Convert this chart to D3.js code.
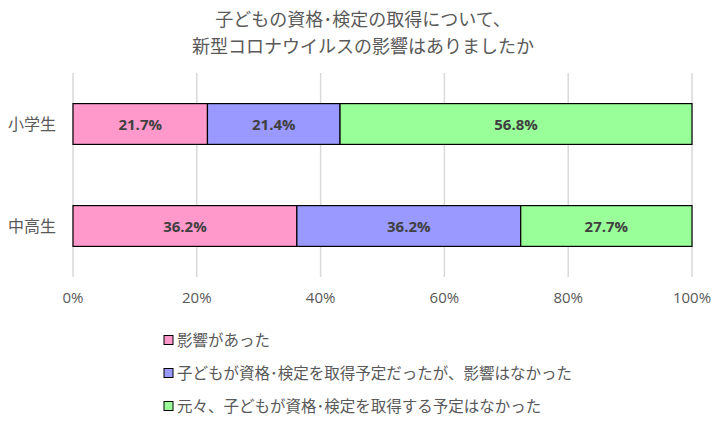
<!DOCTYPE html>
<html><head><meta charset="utf-8">
<script src="https://cdn.jsdelivr.net/npm/d3@7"></script>
<style>body{margin:0;background:#fff;}svg{display:block;font-family:"Noto Sans CJK JP","Noto Sans",sans-serif;}</style>
</head><body><svg id="c" width="726" height="422"></svg>
<script>
const titleLines = ["子どもの資格･検定の取得について、", "新型コロナウイルスの影響はありましたか"];
const categories = ["小学生", "中高生"];
const seriesNames = ["影響があった", "子どもが資格･検定を取得予定だったが、影響はなかった", "元々、子どもが資格･検定を取得する予定はなかった"];
const seriesColors = ["#FF99CC", "#9999FF", "#99FF99"];
const valuesAffected = [21.7, 36.2];
const valuesPlannedNoEffect = [21.4, 36.2];
const valuesNoPlan = [56.8, 27.7];
const tickValues = [0, 20, 40, 60, 80, 100];

const seriesValues = [valuesAffected, valuesPlannedNoEffect, valuesNoPlan];
const svg = d3.select("#c");
const x = d3.scaleLinear().domain([0, 100]).range([73, 692]);
const y = d3.scaleBand().domain(categories).range([73, 277]).paddingInner(0.6).paddingOuter(0.3);

// title
svg.selectAll("text.title").data(titleLines).join("text")
  .attr("x", 363).attr("y", (d,i)=>26 + i*27)
  .attr("text-anchor","middle").attr("font-size",18).attr("fill","#595959").text(d=>d);

// gridlines
svg.selectAll("line.grid").data(tickValues).join("line")
  .attr("x1",d=>x(d)).attr("x2",d=>x(d)).attr("y1",73).attr("y2",277)
  .attr("stroke","#D9D9D9").attr("stroke-width",1.5);

// bars
const stacked = categories.map((c,ci)=>{
  let acc=0;
  return seriesValues.map((s,si)=>{const v=s[ci]; const r={c,si,x0:acc,x1:acc+v,v}; acc+=v; return r;});
}).flat();
categories.forEach(c=>{
  const rows = stacked.filter(r=>r.c===c); const tot = rows[rows.length-1].x1;
  rows.forEach(r=>{r.x0=r.x0*100/tot; r.x1=r.x1*100/tot;});
});
svg.selectAll("rect.bar").data(stacked).join("rect")
  .attr("x",d=>x(d.x0)).attr("width",d=>x(d.x1)-x(d.x0))
  .attr("y",d=>y(d.c)).attr("height",y.bandwidth())
  .attr("fill",d=>seriesColors[d.si]).attr("stroke","#000").attr("stroke-width",1.2);
svg.selectAll("text.lbl").data(stacked).join("text")
  .attr("x",d=>(x(d.x0)+x(d.x1))/2).attr("y",d=>y(d.c)+y.bandwidth()/2+5.5)
  .attr("text-anchor","middle").attr("font-size",15).attr("font-weight","bold")
  .attr("font-family","'Open Sans','Noto Sans',sans-serif")
  .attr("fill","#404040").text(d=>d.v.toFixed(1)+"%");

// category labels
svg.selectAll("text.cat").data(categories).join("text")
  .attr("x",56).attr("y",d=>y(d)+y.bandwidth()/2+6)
  .attr("text-anchor","end").attr("font-size",16).attr("fill","#595959").text(d=>d);

// x axis labels
svg.selectAll("text.tick").data(tickValues).join("text")
  .attr("x",d=>x(d)).attr("y",303).attr("text-anchor","middle")
  .attr("font-size",15).attr("fill","#595959")
  .attr("font-family","'Open Sans','Noto Sans',sans-serif").text(d=>d+"%");

// legend
const lg = svg.selectAll("g.lg").data(seriesNames).join("g")
  .attr("transform",(d,i)=>`translate(164,${340+i*33})`);
lg.append("rect").attr("x",0).attr("y",-4.5).attr("width",9).attr("height",9)
  .attr("fill",(d,i)=>seriesColors[i]).attr("stroke","#000").attr("stroke-width",1);
lg.append("text").attr("x",13).attr("y",5.5).attr("font-size",15.5).attr("fill","#595959").text(d=>d);
</script></body></html>
